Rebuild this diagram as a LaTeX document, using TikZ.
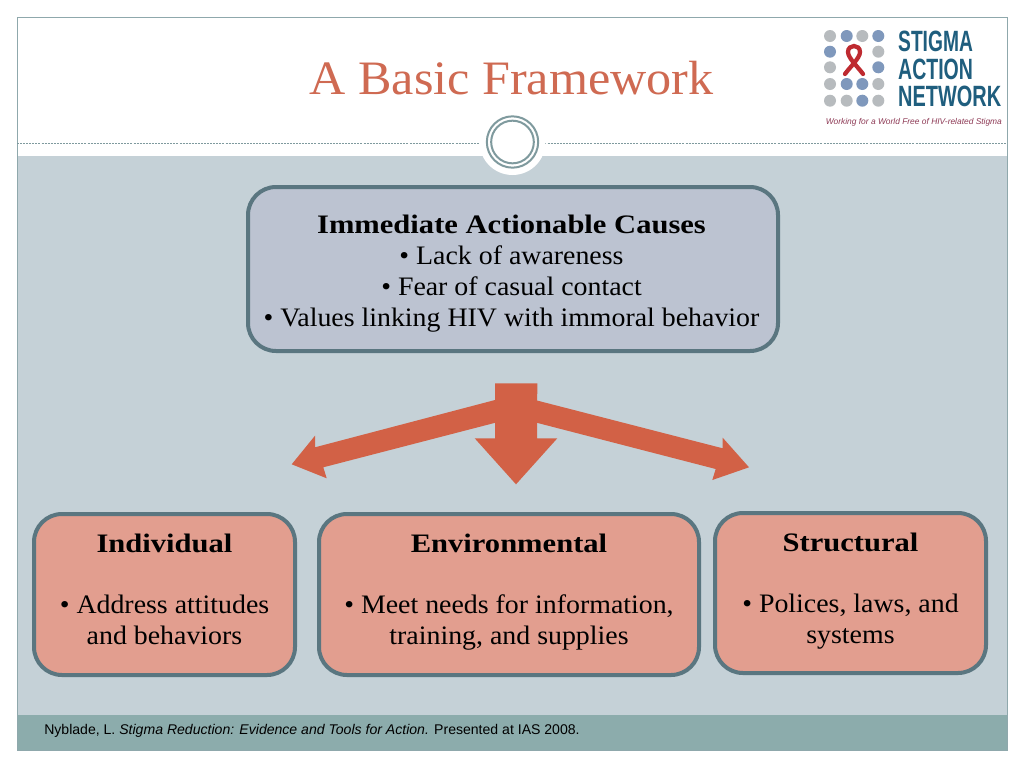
\documentclass[tikz,border=0pt]{standalone}
\usepackage{fontspec}
\setmainfont[FakeStretch=1.045,BoldFeatures={FakeStretch=1.146}]{Liberation Serif}
\setsansfont{Liberation Sans}
\definecolor{band}{HTML}{C5D1D7}
\definecolor{foot}{HTML}{8CACAC}
\definecolor{frameline}{HTML}{8FA8AC}
\definecolor{boxline}{HTML}{5A7680}
\definecolor{topfill}{HTML}{BCC3D1}
\definecolor{lowfill}{HTML}{E29E8F}
\definecolor{arrowc}{HTML}{D26146}
\definecolor{titlec}{HTML}{CF6A52}
\definecolor{ringc}{HTML}{7F9A9E}
\definecolor{dotg}{HTML}{B7BBBE}
\definecolor{dotb}{HTML}{7F98BC}
\definecolor{netc}{HTML}{1F5E7E}
\definecolor{ribc}{HTML}{BE2A30}
\definecolor{tagc}{HTML}{8E3A55}
\tikzset{
  box/.style={draw=boxline,line width=3pt,rounded corners=21pt,inner sep=0pt},
  topbox/.style={box,fill=topfill},
  lowbox/.style={box,fill=lowfill},
  bodytext/.style={align=center,inner sep=0pt,text=black,font=\fontsize{20}{23.25}\selectfont},
  block/.style={fill=arrowc,draw=none},
  gdot/.style={circle,fill=dotg,minimum size=9pt,inner sep=0pt},
  bdot/.style={circle,fill=dotb,minimum size=9pt,inner sep=0pt},
  logotext/.style={text=netc,inner sep=0pt,anchor=west,font=\sffamily\bfseries\fontsize{22}{22}\selectfont},
}
\begin{document}
\begin{tikzpicture}[x=0.75pt,y=-0.75pt]
\useasboundingbox (0,0) rectangle (1024,768);
\fill[white] (0,0) rectangle (1024,768);
% panels
\fill[band] (17,156) rectangle (1007,715);
\fill[foot] (17,715) rectangle (1007,750.5);
\draw[frameline,line width=0.75pt] (17,17) rectangle (1007,750.5);
% divider
\coordinate (dl) at (17,143); \coordinate (dr) at (1007,143);
\draw[ringc,line width=0.75pt,dash pattern=on 1.5pt off 0.8pt] (dl) -- (dr);
\node[circle,fill=white,minimum size=49.5pt,inner sep=0pt] (halo) at (512.5,142) {};
\node[circle,draw=ringc,line width=1.5pt,minimum size=38.5pt,inner sep=0pt] (ringa) at (512.5,142) {};
\node[circle,draw=ringc,line width=1.5pt,minimum size=32pt,inner sep=0pt] (ringb) at (512.5,142) {};
% title
\node[text=titlec,inner sep=0pt,font=\fontsize{36}{40}\selectfont] (title) at (511.5,78) {A Basic Framework};
% logo
\foreach \x/\y/\s [count=\i] in {830/36/gdot,846.7/36/bdot,862.3/36/gdot,878.3/36/bdot,
  830/51.7/bdot,878.3/51.7/gdot,830/67.3/gdot,878.3/67.3/bdot,
  830/84/gdot,846.7/84/bdot,862.3/84/bdot,878.3/84/gdot,
  830/100.7/gdot,846.7/100.7/gdot,862.3/100.7/bdot,878.3/100.7/gdot}
  \node[\s] (dot\i) at (\x,\y) {};
\draw[ribc,line width=3.2pt,line cap=round]
  (845,74) .. controls (850,67) and (860,58) .. (860,52)
  .. controls (860,44) and (848,44) .. (848,52)
  .. controls (848,58) and (858,67) .. (863,74);
\node[logotext,xscale=0.655] (l1) at (898,41.5) {STIGMA};
\node[logotext,xscale=0.665] (l2) at (898,69) {ACTION};
\node[logotext,xscale=0.68] (l3) at (898,96) {NETWORK};
\node[text=tagc,inner sep=0pt,anchor=west,font=\sffamily\itshape\fontsize{6.3}{7}\selectfont] (tag) at (825.5,122) {Working for a World Free of HIV-related Stigma};
% boxes
\node[topbox,minimum width=530*0.75pt,minimum height=164*0.75pt] (top) at (513,269) {};
\node[lowbox,minimum width=261*0.75pt,minimum height=161*0.75pt] (ind) at (164.5,594.5) {};
\node[lowbox,minimum width=380*0.75pt,minimum height=161*0.75pt] (env) at (509,594.5) {};
\node[lowbox,minimum width=271*0.75pt,minimum height=160*0.75pt] (str) at (850.5,593) {};
% texts
\node[bodytext] (toptext) at (511.5,274) {\textbf{Immediate Actionable Causes}\\• Lack of awareness\\• Fear of casual contact\\• Values linking HIV with immoral behavior};
\node[bodytext] (indtext) at (164.5,589) {\textbf{Individual}\\[22.5pt]• Address attitudes\\and behaviors};
\node[bodytext] (envtext) at (509,592) {\textbf{Environmental}\\[22.5pt]• Meet needs for information,\\training, and supplies};
\node[bodytext] (strtext) at (850.5,591) {\textbf{Structural}\\[22.5pt]• Polices, laws, and\\systems};
% block arrows
\fill[block] (495,400) -- (315,447.3) -- (315,435.7) -- (291.7,464.3) -- (326.7,478.3) -- (323.3,467.3) -- (497,422.3) -- cycle;
\fill[block] (535,400) -- (722.7,448.3) -- (722.7,437.7) -- (749,467.3) -- (712.3,480) -- (715.7,469) -- (535,422.3) -- cycle;
\fill[block] (495,383.3) -- (537.3,383.3) -- (537,438.3) -- (557.3,438.3) -- (516,484.3) -- (474.7,438.3) -- (495,438.3) -- cycle;
% footer
\node[anchor=west,inner sep=0pt,text=black,font=\sffamily\fontsize{10.55}{12}\selectfont] (cite) at (44,730.5) {Nyblade, L. \textit{Stigma Reduction: Evidence and Tools for Action.} Presented at IAS 2008.};
\end{tikzpicture}
\end{document}
